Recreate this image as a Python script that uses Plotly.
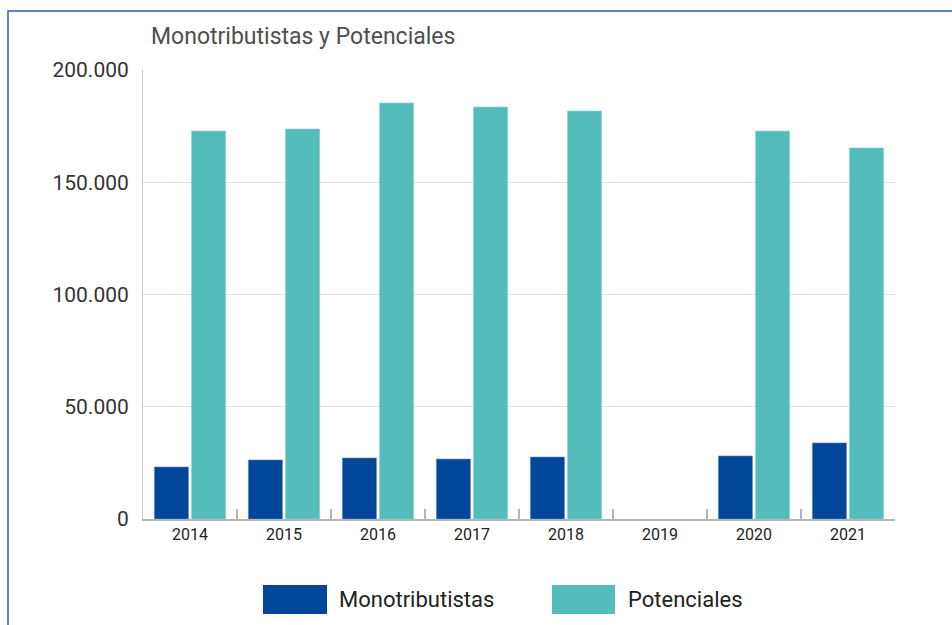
import plotly.graph_objects as go

years = ["2014", "2015", "2016", "2017", "2018", "2019", "2020", "2021"]
monotributistas = [23200, 26300, 27200, 26700, 27600, None, 28100, 33900]
potenciales = [172800, 173700, 185300, 183500, 181700, None, 172800, 165300]
y_ticks = [0, 50000, 100000, 150000, 200000]
y_ticktext = ["0", "50.000", "100.000", "150.000", "200.000"]

C_MONO = "#00479a"
C_POT = "#55bcbc"
FONT = "Roboto"

W, H = 952, 625
L, R, T, B = 143, 57, 70, 106
pw, ph = W - L - R, H - T - B

def px_x(x):
    return (x - L) / pw

def px_y(y):
    return (H - B - y) / ph

fig = go.Figure()
fig.add_trace(go.Bar(x=years, y=monotributistas, name="Monotributistas",
                     marker=dict(color=C_MONO, line=dict(color="#6f8fc0", width=0.6))))
fig.add_trace(go.Bar(x=years, y=potenciales, name="Potenciales",
                     marker=dict(color=C_POT, line=dict(color="#8fd3d3", width=0.6))))

shapes = [
    # outer border
    dict(type="rect", xref="paper", yref="paper",
         x0=px_x(8), x1=px_x(965), y0=px_y(640), y1=px_y(11),
         line=dict(color="#2f5fa5", width=1.5), fillcolor="rgba(0,0,0,0)", layer="below"),
    # legend swatches
    dict(type="rect", xref="paper", yref="paper",
         x0=px_x(263), x1=px_x(327), y0=px_y(614), y1=px_y(585),
         line=dict(width=0), fillcolor=C_MONO),
    dict(type="rect", xref="paper", yref="paper",
         x0=px_x(552), x1=px_x(615), y0=px_y(614), y1=px_y(585),
         line=dict(width=0), fillcolor=C_POT),
]

annotations = [
    dict(text="Monotributistas y Potenciales", xref="paper", yref="paper",
         x=px_x(149), y=px_y(37), xanchor="left", yanchor="middle", showarrow=False,
         font=dict(family=FONT, size=23, color="#4f4f4f")),
    dict(text="Monotributistas", xref="paper", yref="paper",
         x=px_x(337), y=px_y(599), xanchor="left", yanchor="middle", showarrow=False,
         font=dict(family=FONT, size=22, color="#222222")),
    dict(text="Potenciales", xref="paper", yref="paper",
         x=px_x(626), y=px_y(599), xanchor="left", yanchor="middle", showarrow=False,
         font=dict(family=FONT, size=22, color="#222222")),
]

fig.update_layout(
    width=W, height=H,
    margin=dict(l=L, r=R, t=T, b=B, pad=0),
    paper_bgcolor="white", plot_bgcolor="white",
    barmode="group", bargap=0.21, bargroupgap=0.08,
    showlegend=False,
    shapes=shapes, annotations=annotations,
    font=dict(family=FONT, color="#222222"),
)
fig.update_xaxes(
    type="category", showgrid=False, showline=True, linecolor="#b5b5b5", linewidth=2,
    ticks="inside", tickson="boundaries", ticklen=10, tickcolor="#b5b5b5", tickwidth=1.5,
    tickfont=dict(family=FONT, size=16, color="#222222"),
)
fig.update_yaxes(
    range=[0, 200000], tickvals=y_ticks, ticktext=y_ticktext,
    showgrid=True, gridcolor="#e2e2e2", gridwidth=1,
    showline=True, linecolor="#c8c8c8", linewidth=1,
    zeroline=False, ticks="", ticklabelstandoff=9,
    tickfont=dict(family=FONT, size=21, color="#333333"),
)

fig.write_html("out.html")
